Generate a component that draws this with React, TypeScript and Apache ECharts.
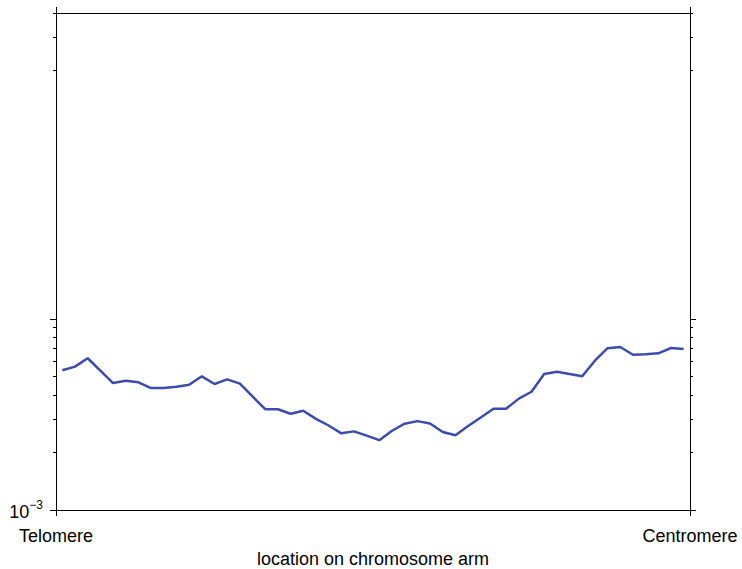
import React, { useEffect, useRef } from "react";
import * as echarts from "echarts";

// 50 bins along the chromosome arm (bin centres at i + 0.5)
const binCount = 50;
const values = [
  5.39e-3, 5.63e-3, 6.23e-3, 5.36e-3, 4.62e-3, 4.75e-3, 4.66e-3, 4.35e-3, 4.35e-3, 4.42e-3,
  4.53e-3, 5.01e-3, 4.57e-3, 4.83e-3, 4.59e-3, 3.93e-3, 3.37e-3, 3.37e-3, 3.19e-3, 3.31e-3,
  3.0e-3, 2.77e-3, 2.52e-3, 2.58e-3, 2.45e-3, 2.32e-3, 2.6e-3, 2.83e-3, 2.92e-3, 2.84e-3,
  2.56e-3, 2.46e-3, 2.75e-3, 3.05e-3, 3.39e-3, 3.39e-3, 3.83e-3, 4.16e-3, 5.15e-3, 5.3e-3,
  5.15e-3, 5.01e-3, 6.05e-3, 7.03e-3, 7.14e-3, 6.5e-3, 6.54e-3, 6.61e-3, 7.05e-3, 6.97e-3,
];
const xEndLabels = ["Telomere", "Centromere"];
const xName = "location on chromosome arm";
const yMin = 0.001;
const yMax = 0.4;
const yMajorTicks = [0.001, 0.01];
const yMinorTicks = [0.002, 0.003, 0.004, 0.005, 0.006, 0.007, 0.008, 0.009, 0.2, 0.3, 0.4];
const yLabelTicks = [0.001];

const FONT = "'Liberation Sans', Arial, Helvetica, sans-serif";

export default function App() {
  const ref = useRef<HTMLDivElement>(null);
  useEffect(() => {
    if (!ref.current) return;
    const chart = echarts.init(ref.current, null, { renderer: "svg" });
    const seriesData = values.map((v, i) => [i + 0.5, v]);
    const axisLine = { show: true, lineStyle: { color: "#000", width: 1 } };
    const mkY = (pos: "left" | "right", ticks: number[], len: number, line: boolean, labels: boolean) => ({
      type: "log",
      position: pos,
      min: yMin,
      max: yMax,
      logBase: 10,
      offset: 0,
      axisLine: { ...axisLine, show: line },
      splitLine: { show: false },
      minorTick: { show: false },
      axisTick: {
        show: true,
        inside: false,
        length: len,
        lineStyle: { color: "#000", width: 1 },
        customValues: ticks,
      },
      axisLabel: labels
        ? {
            show: true,
            margin: 13,
            customValues: yLabelTicks,
            fontFamily: FONT,
            formatter: () => "{b|10}{s|−3}",
            rich: {
              b: { fontSize: 18, color: "#000", fontFamily: FONT, padding: [4, 0, 0, 0] },
              s: { fontSize: 12, color: "#000", fontFamily: FONT, padding: [0, 0, 10, 0] },
            },
          }
        : { show: false },
    });
    chart.setOption({
      animation: false,
      backgroundColor: "#fff",
      grid: { left: 56, right: 52, top: 13, bottom: 59, containLabel: false, outerBoundsMode: "none" },
      xAxis: [
        {
          type: "value",
          position: "bottom",
          min: 0,
          max: binCount,
          interval: binCount,
          axisLine,
          splitLine: { show: false },
          axisTick: { show: true, length: 6, lineStyle: { color: "#000" } },
          axisLabel: {
            show: true,
            margin: 17,
            fontSize: 18,
            color: "#000",
            fontFamily: FONT,
            showMinLabel: true,
            showMaxLabel: true,
            formatter: (v: number) => (v === 0 ? xEndLabels[0] : xEndLabels[1]),
          },
          name: xName,
          nameLocation: "middle",
          nameGap: 39,
          nameTextStyle: { fontSize: 18, color: "#000", fontFamily: FONT, verticalAlign: "top" },
        },
        {
          type: "value",
          position: "top",
          min: 0,
          max: binCount,
          interval: binCount,
          axisLine,
          splitLine: { show: false },
          axisTick: { show: true, length: 6, lineStyle: { color: "#000" } },
          axisLabel: { show: false },
        },
      ],
      yAxis: [
        mkY("left", yMajorTicks, 6, true, true),
        mkY("left", yMinorTicks, 3, false, false),
        mkY("right", yMajorTicks, 6, true, false),
        mkY("right", yMinorTicks, 3, false, false),
      ],
      series: [
        {
          type: "line",
          xAxisIndex: 0,
          yAxisIndex: 0,
          data: seriesData,
          showSymbol: false,
          symbol: "none",
          lineStyle: { color: "#3D4BAA", width: 2.5 },
        },
      ],
    });
    return () => chart.dispose();
  }, []);
  return (
    <div
      ref={ref}
      style={{ position: "fixed", left: 0, top: 0, width: 742, height: 569, background: "#fff" }}
    />
  );
}
